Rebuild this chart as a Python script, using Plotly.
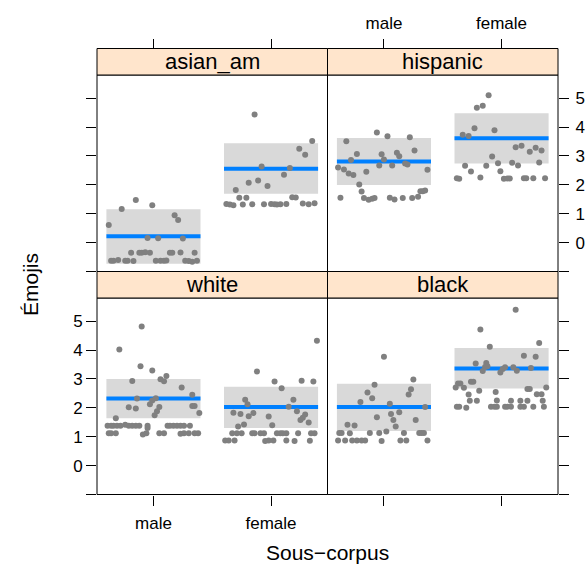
import plotly.graph_objects as go

# ---------------- data ----------------
sexes = ["male", "female"]
groups = ["asian_am", "hispanic", "white", "black"]
y_ticks = [-1, 0, 1, 2, 3, 4, 5]
y_ticktext = ["", "0", "1", "2", "3", "4", "5"]

# fitted value, lower and upper bound per sex (male, female)
asian_am_fit = [0.22, 2.56]
asian_am_lower = [-0.73, 1.69]
asian_am_upper = [1.15, 3.44]
hispanic_fit = [2.81, 3.61]
hispanic_lower = [1.99, 2.74]
hispanic_upper = [3.62, 4.48]
white_fit = [2.32, 2.03]
white_lower = [1.64, 1.30]
white_upper = [3.00, 2.73]
black_fit = [2.03, 3.36]
black_lower = [1.20, 2.67]
black_upper = [2.83, 4.07]

# partial residuals: horizontal jitter (in category units) and value
asian_am_male_jit = [-0.38, -0.27, -0.15, -0.01, 0.18, 0.21, -0.05, 0.04, 0.25,
                     -0.19, -0.12, -0.10, -0.07, -0.03, 0.14, 0.16, 0.23, 0.35,
                     -0.36, -0.34, -0.30, -0.24, -0.22, -0.17, 0.02, 0.06, 0.09, 0.11, 0.27, 0.30, 0.33, 0.37]
asian_am_male_y = [0.61, 1.16, 1.47, 1.29, 0.95, 0.78, 0.16, 0.15, 0.14,
                   -0.35, -0.35, -0.35, -0.33, -0.35, -0.35, -0.35, -0.34, -0.35,
                   -0.63, -0.63, -0.60, -0.63, -0.63, -0.64, -0.63, -0.63, -0.63, -0.62, -0.63, -0.64, -0.66, -0.63]
asian_am_female_jit = [-0.14, 0.35, 0.24, 0.29, -0.08, 0.16, 0.11, -0.19, -0.11, -0.03, -0.30, -0.27, -0.21, 0.18, 0.21,
                       -0.38, -0.35, -0.32, -0.24, -0.16, -0.06, 0.0, 0.03, 0.05, 0.08, 0.13, 0.27, 0.32, 0.37]
asian_am_female_y = [4.43, 3.52, 3.25, 3.04, 2.63, 2.58, 2.35, 2.07, 2.15, 1.96, 1.82, 1.55, 1.55, 1.57, 1.56,
                     1.34, 1.32, 1.29, 1.32, 1.33, 1.33, 1.34, 1.33, 1.32, 1.33, 1.34, 1.35, 1.33, 1.36]

hispanic_male_jit = [-0.06, 0.03, 0.22, -0.32, 0.26, -0.23, -0.02, 0.11, 0.13, 0.0, -0.28, 0.18, 0.20, -0.04, 0.07,
                     -0.39, -0.34, -0.30, -0.26, -0.15, 0.37, -0.21, -0.19, -0.37, -0.17, -0.13, -0.10, -0.08,
                     0.05, 0.09, 0.16, 0.24, 0.29, 0.31, 0.33, 0.35]
hispanic_male_y = [3.81, 3.68, 3.65, 3.51, 3.19, 3.07, 3.06, 3.11, 2.99, 2.88, 2.86, 2.74, 2.70, 2.67, 2.67,
                   2.60, 2.53, 2.39, 2.34, 2.45, 2.52, 2.01, 1.77, 1.55, 1.54, 1.48, 1.52, 1.54,
                   1.55, 1.49, 1.54, 1.54, 1.59, 1.78, 1.78, 1.80]
hispanic_female_jit = [-0.11, -0.21, -0.16, -0.23, -0.06, -0.33, -0.28, 0.12, 0.17, 0.24, 0.29, 0.34, -0.08, -0.03,
                       0.09, 0.14, 0.32, -0.31, -0.13, -0.26, -0.01, -0.18, -0.38, -0.36, 0.02, 0.05, 0.07,
                       0.19, 0.21, 0.27, 0.37]
hispanic_female_y = [5.10, 4.67, 4.74, 3.96, 3.89, 3.73, 3.69, 3.30, 3.35, 3.14, 3.28, 3.19, 2.98, 2.75,
                     2.76, 2.67, 2.77, 2.66, 2.66, 2.46, 2.47, 2.25, 2.23, 2.21, 2.21, 2.22, 2.22,
                     2.23, 2.23, 2.23, 2.23]

white_male_jit = [-0.10, -0.29, -0.11, -0.01, -0.18, 0.06, 0.09, 0.11, 0.24, 0.33, -0.14, 0.02, -0.01, -0.03, 0.05,
                  0.03, 0.01, -0.21, -0.15, 0.33, 0.35, 0.39, -0.32,
                  -0.39, -0.36, -0.34, -0.31, -0.28, -0.24, -0.21, -0.18, -0.15, -0.12, -0.05, 0.12, 0.14, 0.17,
                  0.20, 0.23, 0.26, 0.31, -0.05,
                  -0.38, -0.36, -0.32, -0.09, -0.06, 0.05, 0.09, 0.23, 0.26, 0.30, 0.35, 0.38]
white_male_y = [4.81, 4.02, 3.44, 3.29, 2.93, 2.99, 2.92, 3.10, 2.70, 2.45, 2.32, 2.33, 2.25, 2.12, 2.03,
                1.88, 1.74, 2.02, 1.98, 2.06, 2.06, 1.82, 1.64,
                1.38, 1.38, 1.38, 1.38, 1.38, 1.41, 1.38, 1.38, 1.38, 1.38, 1.38, 1.38, 1.38, 1.38,
                1.38, 1.38, 1.38, 1.38, 1.30,
                1.12, 1.12, 1.12, 1.08, 1.12, 1.12, 1.12, 1.10, 1.12, 1.12, 1.12, 1.12]
white_female_jit = [0.39, -0.12, 0.03, 0.26, 0.36, 0.09, 0.19, -0.22, -0.20, 0.15, 0.22, -0.32, -0.26, -0.15, -0.19,
                    -0.02, 0.29, 0.27, 0.25, 0.32, 0.01, -0.23, -0.28,
                    -0.33, -0.29, -0.25, -0.16, -0.14, -0.09, -0.06, 0.05, 0.08, 0.10, 0.13, 0.23, 0.34, 0.37,
                    -0.39, -0.36, -0.31, -0.05, -0.02, 0.02, 0.13, 0.20, 0.33]
white_female_y = [4.32, 3.26, 2.91, 2.94, 2.91, 2.68, 2.28, 2.28, 2.12, 2.04, 1.88, 1.83, 1.79, 1.82, 1.71,
                  1.70, 1.77, 1.66, 1.58, 1.49, 1.40, 1.42, 1.35,
                  1.12, 1.12, 1.12, 1.12, 1.12, 1.12, 1.12, 1.12, 1.12, 1.12, 1.12, 1.12, 1.12, 1.12,
                  0.87, 0.87, 0.87, 0.85, 0.87, 0.87, 0.87, 0.85, 0.86]

black_male_jit = [0.0, 0.25, 0.23, 0.21, -0.08, -0.14, -0.10, -0.20, 0.05, 0.35, 0.13, 0.06, -0.06, 0.08, 0.27,
                  0.10, -0.31, -0.25,
                  -0.38, -0.36, -0.29, -0.12, -0.04, 0.02, 0.17, 0.30, 0.32, 0.34,
                  -0.39, -0.33, -0.27, -0.23, -0.19, -0.16, -0.02, 0.14, 0.19, 0.37]
black_male_y = [3.77, 2.98, 2.64, 2.46, 2.80, 2.53, 2.33, 2.20, 2.14, 2.03, 1.85, 1.79, 1.67, 1.58, 1.58,
                1.35, 1.41, 1.39,
                1.13, 1.13, 1.12, 1.13, 1.13, 1.18, 1.13, 1.13, 1.13, 1.13,
                0.87, 0.87, 0.87, 0.87, 0.87, 0.87, 0.85, 0.87, 0.87, 0.87]
black_female_jit = [0.12, -0.18, 0.32, -0.10, 0.19, 0.29, -0.22, -0.13, -0.12, -0.14, -0.16, 0.03, 0.01, -0.01,
                    0.10, 0.13, 0.25, -0.39, -0.37, -0.35, -0.32, -0.26, -0.24, 0.38, -0.19, -0.05, 0.22,
                    0.24, 0.30, 0.34, -0.28,
                    -0.27, -0.21, -0.04, 0.08, 0.16, 0.22, 0.35,
                    -0.38, -0.36, -0.30, -0.09, -0.06, -0.04, 0.03, 0.05, 0.08, 0.16, 0.19, 0.27, 0.36]
black_female_y = [5.39, 4.71, 4.24, 4.11, 3.80, 3.77, 3.53, 3.55, 3.44, 3.41, 3.27, 3.40, 3.34, 3.22,
                  3.40, 3.28, 3.38, 2.70, 2.84, 2.84, 2.69, 2.90, 2.90, 2.70, 2.59, 2.55, 2.65,
                  2.65, 2.47, 2.47, 2.46,
                  2.24, 2.24, 2.25, 2.24, 2.24, 2.24, 2.24,
                  2.04, 2.04, 2.00, 2.04, 2.04, 2.04, 2.04, 2.04, 2.04, 2.04, 2.04, 2.04, 2.04]

# ---------------- styling / layout ----------------
W, H = 588, 572
FONT = "Liberation Sans, Arial, Helvetica, sans-serif"
BLUE = "#0080ff"
BAND = "#d9d9d9"
PT = "#808080"
STRIP = "#ffe5cc"
HALF = 0.4
TICK_SIZE = 17
STRIP_SIZE = 22
TITLE_SIZE = 21

XL, XM, XR = 97, 327.5, 558
S1T, P1T, P1B, P2T, P2B = 48.5, 75, 271.5, 298, 494.5
XRANGE = [0.52, 2.48]
YRANGE = [-1.0, 5.8]


def px_x(v):
    return v / W


def px_y(v):
    return 1 - v / H


panel_data = {
    "asian_am": (asian_am_fit, asian_am_lower, asian_am_upper,
                 [(asian_am_male_jit, asian_am_male_y), (asian_am_female_jit, asian_am_female_y)]),
    "hispanic": (hispanic_fit, hispanic_lower, hispanic_upper,
                 [(hispanic_male_jit, hispanic_male_y), (hispanic_female_jit, hispanic_female_y)]),
    "white": (white_fit, white_lower, white_upper,
              [(white_male_jit, white_male_y), (white_female_jit, white_female_y)]),
    "black": (black_fit, black_lower, black_upper,
              [(black_male_jit, black_male_y), (black_female_jit, black_female_y)]),
}

# panel geometry: (x0, x1, ytop, ybottom, xside, yside, show x labels, show y labels)
panel_geom = {
    "asian_am": (XL, XM, P1T, P1B, "top", "left", False, False),
    "hispanic": (XM, XR, P1T, P1B, "top", "right", True, True),
    "white": (XL, XM, P2T, P2B, "bottom", "left", True, True),
    "black": (XM, XR, P2T, P2B, "bottom", "right", False, False),
}

fig = go.Figure()
layout = dict(
    width=W, height=H, margin=dict(l=0, r=0, t=0, b=0, pad=0),
    paper_bgcolor="white", plot_bgcolor="white", showlegend=False,
    font=dict(family=FONT, color="black"),
)
shapes = []
annotations = []

for i, g in enumerate(groups):
    n = "" if i == 0 else str(i + 1)
    xa, ya = "x" + n, "y" + n
    fit, lo, hi, pts = panel_data[g]
    x0, x1, yt, yb, xside, yside, showx, showy = panel_geom[g]
    for k, s in enumerate(sexes):
        c = k + 1
        fig.add_trace(go.Scatter(
            x=[c - HALF, c + HALF, c + HALF, c - HALF, c - HALF],
            y=[lo[k], lo[k], hi[k], hi[k], lo[k]],
            fill="toself", fillcolor=BAND, mode="lines", line=dict(width=0, color=BAND),
            hoverinfo="skip", xaxis=xa, yaxis=ya))
        fig.add_trace(go.Scatter(
            x=[c - HALF, c + HALF], y=[fit[k], fit[k]], mode="lines",
            line=dict(color=BLUE, width=4), xaxis=xa, yaxis=ya, name=f"{g} {s}"))
    for k, s in enumerate(sexes):
        c = k + 1
        jit, yy = pts[k]
        fig.add_trace(go.Scatter(
            x=[c + j for j in jit], y=yy, mode="markers",
            marker=dict(color=PT, size=6, line=dict(width=0)),
            xaxis=xa, yaxis=ya, name=f"{g} {s} residuals"))

    axis_common = dict(showline=False, ticks="outside", ticklen=10, tickwidth=1, tickcolor="black",
                       showgrid=False, zeroline=False, fixedrange=True,
                       tickfont=dict(family=FONT, size=TICK_SIZE, color="black"))
    st_top = yt - (P1T - S1T)
    xdict = dict(axis_common, domain=[px_x(x0), px_x(x1)], range=XRANGE, side=xside,
                 tickmode="array", tickvals=[1, 2], ticktext=sexes, showticklabels=showx,
                 ticklabelstandoff=3)
    if xside == "top":
        xdict.update(anchor="free", position=px_y(st_top))
    else:
        xdict.update(anchor=ya)
    layout["xaxis" + n] = xdict
    layout["yaxis" + n] = dict(
        axis_common, domain=[px_y(yb), px_y(yt)], range=YRANGE, side=yside,
        tickmode="array", tickvals=y_ticks, ticktext=y_ticktext, showticklabels=showy,
        anchor=xa, ticklabelstandoff=(0 if yside == "left" else 3))

    # panel frame
    shapes.append(dict(type="rect", xref="paper", yref="paper",
                       x0=px_x(x0), x1=px_x(x1), y0=px_y(yb), y1=px_y(yt),
                       fillcolor="rgba(0,0,0,0)", line=dict(color="black", width=1), layer="above"))
    # strip
    shapes.append(dict(type="rect", xref="paper", yref="paper",
                       x0=px_x(x0), x1=px_x(x1), y0=px_y(yt), y1=px_y(st_top),
                       fillcolor=STRIP, line=dict(color="black", width=1), layer="above"))
    annotations.append(dict(text=g, xref="paper", yref="paper",
                            x=px_x((x0 + x1) / 2), y=px_y((yt + st_top) / 2),
                            xanchor="center", yanchor="middle", showarrow=False,
                            font=dict(family=FONT, size=STRIP_SIZE, color="black")))

annotations.append(dict(text="Émojis", xref="paper", yref="paper", x=px_x(30), y=px_y(285),
                        textangle=-90, showarrow=False, xanchor="center", yanchor="middle",
                        font=dict(family=FONT, size=TITLE_SIZE, color="black")))
annotations.append(dict(text="Sous\u2212corpus", xref="paper", yref="paper", x=px_x(327.5), y=px_y(552),
                        showarrow=False, xanchor="center", yanchor="middle",
                        font=dict(family=FONT, size=TITLE_SIZE, color="black")))

layout["shapes"] = shapes
layout["annotations"] = annotations
fig.update_layout(**layout)
fig.write_html("out.html", config={"displayModeBar": False},
               post_script="document.body.style.margin='0px';")
